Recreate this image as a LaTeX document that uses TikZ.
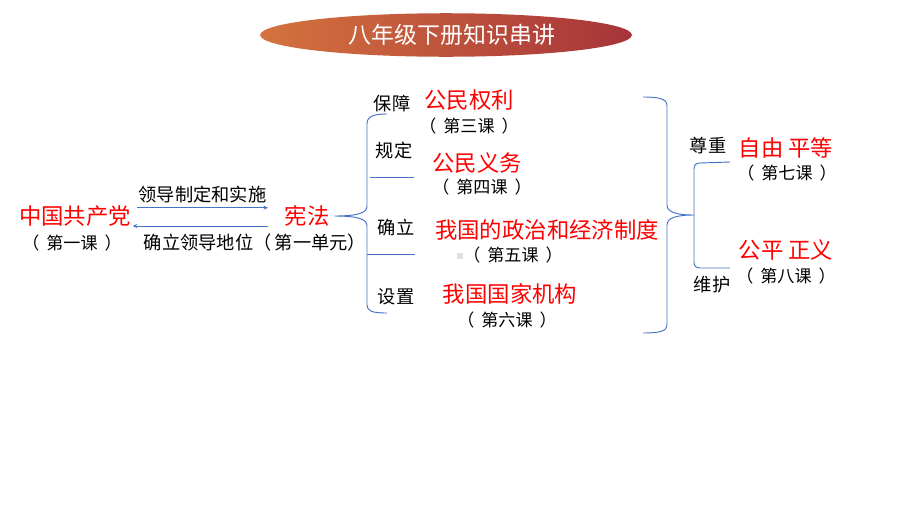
\documentclass[tikz,border=0pt]{standalone}
\usepackage{fontspec}
\setmainfont{Noto Sans CJK SC}
\usepackage{xcolor}
\usepackage{tikz}
\usetikzlibrary{shapes,arrows,positioning,calc}
\definecolor{titleorange}{HTML}{D4733E}
\definecolor{titlered}{HTML}{A7333A}
\definecolor{linkblue}{HTML}{4472C4}
\definecolor{topicred}{HTML}{FF0000}
\newcommand{\lessonno}[1]{（\hspace{6pt}#1\hspace{6pt}）}

\begin{document}
\begin{tikzpicture}[x=0.85pt,y=-0.85pt]
        % Define styles
        \tikzstyle{topic} = [inner sep=0pt, text=topicred, font=\fontsize{19}{19}\selectfont]
        \tikzstyle{lesson} = [inner sep=0pt, text=black, font=\fontsize{14.5}{14.5}\selectfont]
        \tikzstyle{relword} = [inner sep=0pt, text=black, font=\fontsize{15.5}{15.5}\selectfont]
        \tikzstyle{arrow} = [->,>=stealth,color=linkblue,line width=0.7pt]
        \tikzstyle{brace} = [color=linkblue,line width=0.8pt]

        \useasboundingbox (0,0) rectangle (920,518);

        % Title
        \node (title) [ellipse, minimum width=316pt, minimum height=37pt, inner sep=0pt, left color=titleorange, right color=titlered, text=white, font=\fontsize{19.5}{19.5}\selectfont] at (446,35) {\hspace{10pt}八年级下册知识串讲};

        % Party and constitution
        \node (cpc) [topic] at (75,216) {中国共产党};
        \node (les1) [lesson] at (72,243) {\lessonno{第一课}};
        \node (xf) [topic] at (307,216) {宪法};

        \draw[arrow] ([xshift=5pt,yshift=7pt]cpc.east) -- node[relword, above=4pt] (lead) {领导制定和实施} ([xshift=-14pt,yshift=7pt]xf.west);
        \draw[arrow] ([xshift=-14pt,yshift=-8.5pt]xf.west) -- ([xshift=1.5pt,yshift=-8.5pt]cpc.east);
        \node (found) [relword] at (255,243) {确立领导地位（\hspace{3pt}第一单元）};

        % Content of the constitution
        \coordinate (lb) at (334,216);
        \draw[brace] (387,114) .. controls (372,114) and (367,117) .. (367,124) -- (367,206) .. controls (367,213) and (358,216) .. (lb) .. controls (358,216) and (367,219) .. (367,226) -- (367,305) .. controls (367,311) and (372,313) .. (387,313);
        \draw[brace] (370,177) -- (414,177);
        \draw[brace] (367,254) -- (415,254);

        \node (bz) [relword] at (392,104) {保障};
        \node (gd) [relword] at (394,151) {规定};
        \node (ql) [relword] at (396,228) {确立};
        \node (sz) [relword] at (396,297) {设置};

        \node (t3) [topic] at (469,100) {公民权利};
        \node (les3) [lesson] at (469,126) {\lessonno{第三课}};
        \node (t4) [topic] at (477,163) {公民义务};
        \node (les4) [lesson] at (482,187) {\lessonno{第四课}};
        \node (t5) [topic] at (547,230) {我国的政治和经济制度};
        \node (les5) [lesson] at (513,255) {\lessonno{第五课}};
        \fill[gray!25] (457,253) rectangle (463,259);
        \node (t6) [topic] at (510,294) {我国国家机构};
        \node (les6) [lesson] at (507,320) {\lessonno{第六课}};

        % Values
        \coordinate (rb) at (694,215);
        \draw[brace] (643,97) .. controls (660,97) and (667,99) .. (667,106) -- (667,205) .. controls (667,212) and (676,215) .. (rb) .. controls (676,215) and (667,218) .. (667,225) -- (667,325) .. controls (667,331) and (660,333) .. (643,333);
        \draw[brace] (730,162) -- (700,163) .. controls (696,163) and (694,165) .. (694,169) -- (694,262) .. controls (694,266) and (696,268) .. (700,268) -- (730,268);

        \node (zz) [relword] at (708,146) {尊重};
        \node (wh) [relword] at (712,285) {维护};
        \node (t7) [topic] at (786,148) {自由 平等};
        \node (les7) [lesson] at (787,173) {\lessonno{第七课}};
        \node (t8) [topic] at (786,250) {公平 正义};
        \node (les8) [lesson] at (786,276) {\lessonno{第八课}};

    \end{tikzpicture}
\end{document}
